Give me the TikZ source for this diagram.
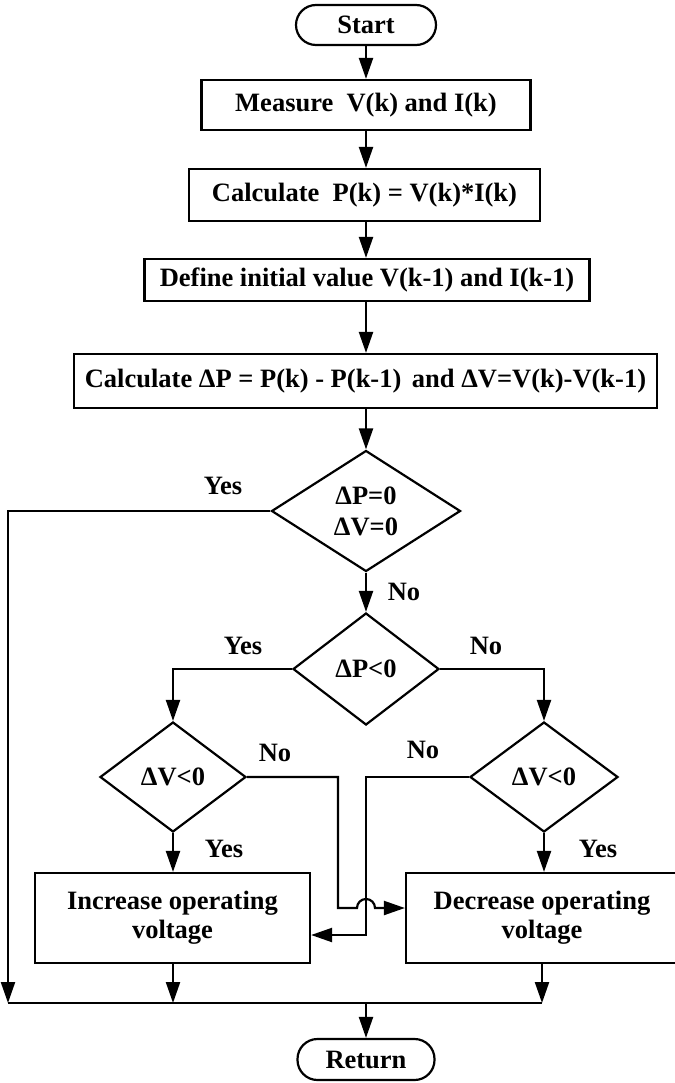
\documentclass[tikz,border=0pt]{standalone}
\usepackage{fontspec}
\setmainfont{Liberation Serif}
\usetikzlibrary{shapes.geometric,arrows.meta}
\tikzset{
  base/.style={draw, line width=2.2pt, font=\bfseries\fontsize{26.5}{31}\selectfont, inner sep=0pt, align=center},
  procbox/.style={base, rectangle},
  termbox/.style={base, rectangle, rounded corners=20pt},
  decbox/.style={base, diamond},
  flow/.style={line width=2.2pt, -{Triangle[length=21pt,width=14pt]}},
  plain/.style={line width=2.2pt},
  lbl/.style={font=\bfseries\fontsize{26.5}{31}\selectfont, inner sep=0pt}
}
\begin{document}
\begin{tikzpicture}[x=1pt,y=-1pt]
\useasboundingbox (0,0) rectangle (674,1083);
% nodes
\node[termbox, minimum width=140pt, minimum height=40pt] (start) at (366,25) {Start};
\node[procbox, minimum width=329pt, minimum height=50pt] (meas) at (366,105) {Measure\ \ V(k) and I(k)};
\node[procbox, minimum width=351pt, minimum height=52pt] (calcp) at (364.5,195) {Calculate\ \ P(k) = V(k)*I(k)};
\node[procbox, minimum width=445pt, minimum height=42pt] (defn) at (367,280) {Define initial value V(k-1) and I(k-1)};
\node[procbox, minimum width=583pt, minimum height=54pt] (dpbox) at (365.5,381) {Calculate ΔP = P(k) - P(k-1)\hspace{4pt} and ΔV=V(k)-V(k-1)};
\node[decbox, minimum width=189pt, minimum height=121pt] (d1) at (366,511) {ΔP=0\\ΔV=0};
\node[decbox, minimum width=146pt, minimum height=112pt] (d2) at (366,669) {ΔP<0};
\node[decbox, minimum width=146pt, minimum height=110pt] (d3) at (173,777) {ΔV<0};
\node[decbox, minimum width=148pt, minimum height=110pt] (d4) at (544,777) {ΔV<0};
\node[procbox, minimum width=275pt, minimum height=90pt, font=\bfseries\fontsize{26.5}{29}\selectfont] (inc) at (172.5,918) {Increase operating\\voltage};
\node[procbox, minimum width=272pt, minimum height=90pt, font=\bfseries\fontsize{26.5}{29}\selectfont] (dec) at (542,918) {Decrease operating\\voltage};
\node[termbox, minimum width=137pt, minimum height=41pt] (ret) at (366,1059.5) {Return};
% coordinates
\coordinate (busL) at (8,1003);
\coordinate (busR) at (542,1003);
\coordinate (busM) at (366,1003);
\coordinate (j1) at (338,908);
\coordinate (hopL) at (357,908);
\coordinate (j2) at (366,935);
% connectors
\draw[flow] (start) -- (meas);
\draw[flow] (meas) -- (calcp.north -| meas.south);
\draw[flow] (calcp.south -| meas.south) -- (defn.north -| meas.south);
\draw[flow] (defn.south -| meas.south) -- (dpbox.north -| meas.south);
\draw[flow] (dpbox.south -| d1.north) -- (d1.north);
\draw[flow] (d1.west) -| (busL);
\draw[flow] (d1.south) -- (d2.north);
\draw[flow] (d2.west) -| (d3.north);
\draw[flow] (d2.east) -| (d4.north);
\draw[flow] (d3.south) -- (d3.south |- inc.north);
\draw[flow] (d4.south) -- (d4.south |- dec.north);
\draw[flow] (d3.east) -| (j1) -- (hopL) arc[start angle=180, end angle=0, radius=9pt] -- (dec.west |- j1);
\draw[flow] (d4.west) -| (j2) -- (inc.east |- j2);
\draw[flow] (inc.south -| d3.south) -- (d3.south |- busL);
\draw[flow] (dec.south) -- (dec.south |- busR);
\draw[plain] (busL) -- (busR);
\draw[flow] (busM) -- (ret.north);
% labels
\node[lbl] (ly1) at (223,486) {Yes};
\node[lbl] (ln1) at (404,592) {No};
\node[lbl] (ly2) at (243,646) {Yes};
\node[lbl] (ln2) at (486,646) {No};
\node[lbl] (ln3) at (275,753) {No};
\node[lbl] (ln4) at (423,750) {No};
\node[lbl] (ly3) at (224,849) {Yes};
\node[lbl] (ly4) at (598,849) {Yes};
\end{tikzpicture}
\end{document}
